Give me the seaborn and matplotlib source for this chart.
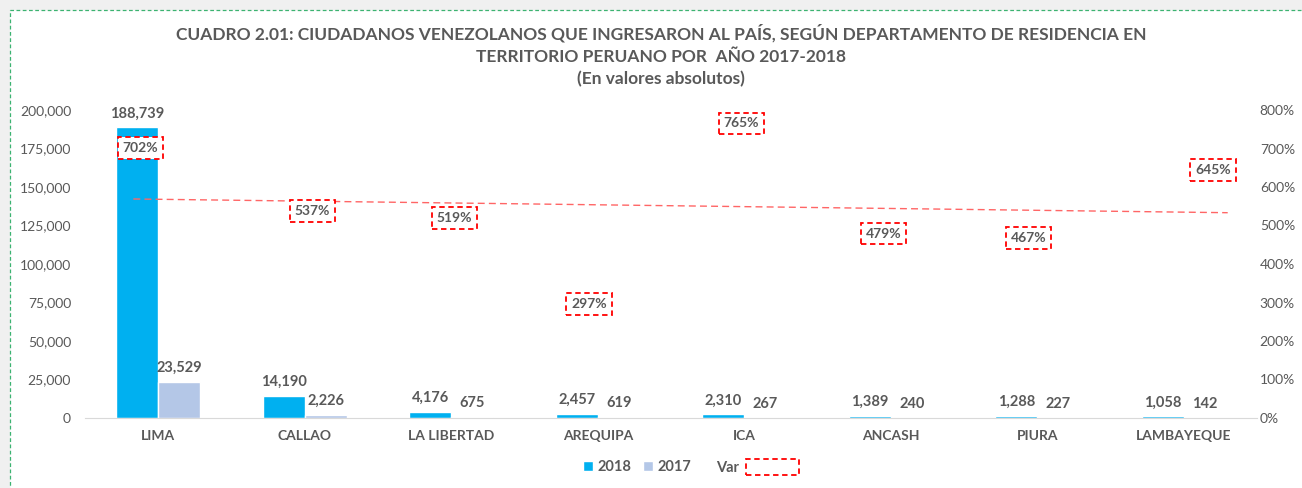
import numpy as np
import pandas as pd
import matplotlib.pyplot as plt
import seaborn as sns
from matplotlib.patches import Patch, Rectangle
from matplotlib.ticker import FuncFormatter

departamentos = ["LIMA", "CALLAO", "LA LIBERTAD", "AREQUIPA", "ICA", "ANCASH", "PIURA", "LAMBAYEQUE"]
valores_2018 = [188739, 14190, 4176, 2457, 2310, 1389, 1288, 1058]
valores_2017 = [23529, 2226, 675, 619, 267, 240, 227, 142]
variacion = [702, 537, 519, 297, 765, 479, 467, 645]

C2018 = "#00B0F0"
C2017 = "#B4C7E7"
GREY = "#595959"


def build_frame():
    rows = []
    for d, a, b in zip(departamentos, valores_2018, valores_2017):
        rows.append({"Departamento": d, "Año": "2018", "Valor": a})
        rows.append({"Departamento": d, "Año": "2017", "Valor": b})
    return pd.DataFrame(rows)


def plot_chart(df):
    sns.set_style("white")
    plt.rcParams["font.family"] = ["Lato", "DejaVu Sans"]

    fig = plt.figure(figsize=(13.02, 4.88), dpi=100)
    fig.patch.set_facecolor("#F0F0F0")
    # white panel with dashed green border
    panel = Rectangle((10 / 1302, -0.05), 1.1, (478 / 488) + 0.05,
                      transform=fig.transFigure, facecolor="white",
                      edgecolor="#3CB371", linestyle=(0, (3, 2)), lw=0.9, zorder=-10)
    fig.add_artist(panel)

    ax = fig.add_axes([85 / 1302, 70 / 488, 1172 / 1302, 308 / 488])
    ax.set_facecolor("none")
    sns.barplot(data=df, x="Departamento", y="Valor", hue="Año",
                palette={"2018": C2018, "2017": C2017}, width=0.575, gap=0,
                ax=ax, legend=False, errorbar=None, saturation=1)

    ax.set_xlim(-0.5, len(departamentos) - 0.5)
    ax.set_ylim(0, 200000)
    ax.set_yticks(np.arange(0, 200001, 25000))
    ax.yaxis.set_major_formatter(FuncFormatter(lambda v, p: f"{int(v):,}"))
    ax.set_xlabel("")
    ax.set_ylabel("")
    ax.tick_params(axis="y", length=0, labelsize=10, labelcolor=GREY, pad=10)
    ax.tick_params(axis="x", length=0, labelsize=10, labelcolor=GREY, pad=9)
    for lab in ax.get_xticklabels():
        lab.set_fontweight("bold")
    for s in ["top", "left", "right"]:
        ax.spines[s].set_visible(False)
    ax.spines["bottom"].set_color("#D9D9D9")

    # value labels
    for container in ax.containers:
        ax.bar_label(container, labels=[f"{int(v):,}" for v in container.datavalues],
                     padding=5, fontsize=10.5, fontweight="bold", color=GREY)

    # secondary axis: variation
    ax2 = ax.twinx()
    ax2.set_ylim(0, 8)
    ax2.set_yticks(np.arange(0, 9, 1))
    ax2.yaxis.set_major_formatter(FuncFormatter(lambda v, p: f"{int(v * 100)}%"))
    ax2.tick_params(axis="y", length=0, labelsize=10, labelcolor=GREY, pad=2)
    for s in ["top", "left", "right", "bottom"]:
        ax2.spines[s].set_visible(False)

    nudges = [-0.12, 0.05, 0.02, -0.06, -0.02, -0.05, -0.06, 0.2]
    xs = np.arange(len(departamentos))
    for x, v, n in zip(xs, variacion, nudges):
        ax2.text(x + n, v / 100, f"{v}%", ha="center", va="center", fontsize=10,
                 fontweight="bold", color=GREY, zorder=5,
                 bbox=dict(boxstyle="square,pad=0.35", fc="white", ec="#FF0000",
                           ls=(0, (3, 2)), lw=1.3))

    # linear trend of the variation
    coef = np.polyfit(xs, np.array(variacion) / 100, 1)
    tx = np.array([-0.17, len(departamentos) - 1 + 0.3])
    ax2.plot(tx, np.polyval(coef, tx), color="#FF6666", ls=(0, (5, 3)), lw=1, zorder=3)

    # title
    title_kw = dict(ha="center", va="center", fontsize=12.5, fontweight="bold", color=GREY)
    fig.text(0.508, 0.932, "CUADRO 2.01: CIUDADANOS VENEZOLANOS QUE INGRESARON AL PAÍS, SEGÚN DEPARTAMENTO DE RESIDENCIA EN", **title_kw)
    fig.text(0.508, 0.883, "TERRITORIO PERUANO POR  AÑO 2017-2018", **title_kw)
    fig.text(0.508, 0.837, "(En valores absolutos)", **title_kw)

    # legend: year keys, then "Var" with its key after the text
    years = [Patch(facecolor=C2018, label="2018"), Patch(facecolor=C2017, label="2017")]
    leg1 = fig.legend(handles=years, loc="center right", bbox_to_anchor=(0.541, 0.043), ncol=2,
                      frameon=False, fontsize=10.5, handlelength=0.7, handleheight=0.7,
                      handletextpad=0.3, columnspacing=0.8)
    var_key = [Patch(facecolor="white", edgecolor="#FF0000", ls=(0, (3, 2)), lw=1.3, label="Var")]
    leg2 = fig.legend(handles=var_key, loc="center left", bbox_to_anchor=(0.54, 0.043),
                      frameon=False, fontsize=10.5, handlelength=3.6, handleheight=1.4,
                      handletextpad=0.5, markerfirst=False)
    for leg in (leg1, leg2):
        for t in leg.get_texts():
            t.set_color(GREY)
            t.set_fontweight("bold")

    fig.savefig("out.png", dpi=100, facecolor=fig.get_facecolor())


if __name__ == "__main__":
    data = build_frame()
    plot_chart(data)
